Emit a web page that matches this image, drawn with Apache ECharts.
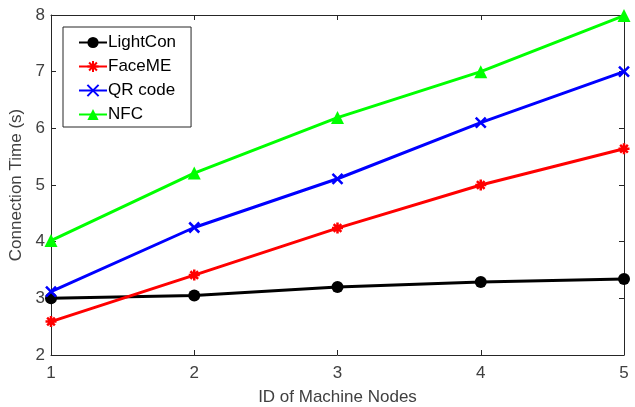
<!DOCTYPE html>
<html>
<head>
<meta charset="utf-8">
<script src="https://cdn.jsdelivr.net/npm/echarts@6/dist/echarts.min.js"></script>
<style>
  html, body { margin: 0; padding: 0; background: #fff; }
  #chart { width: 635px; height: 407px; }
</style>
</head>
<body>
<div id="chart"></div>
<script>
const nodeIds = [1, 2, 3, 4, 5];
const lightCon = [3.0, 3.05, 3.2, 3.29, 3.34];
const faceMe = [2.59, 3.41, 4.24, 5.0, 5.64];
const qrCode = [3.12, 4.25, 5.11, 6.1, 7.0];
const nfc = [4.02, 5.21, 6.19, 7.0, 7.99];

const xTicks = ['1', '2', '3', '4', '5'];
const yTicks = ['2', '3', '4', '5', '6', '7', '8'];

const FONT = '"Liberation Sans", Arial, sans-serif';
const AXIS_COLOR = '#262626';
const TEXT_COLOR = '#404040';

const asterisk = 'path://M5,0 L5,10 M0,5 L10,5 M1.5,1.5 L8.5,8.5 M8.5,1.5 L1.5,8.5';
const cross = 'path://M0,0 L10,10 M10,0 L0,10';

function pairs(values) {
    return nodeIds.map((id, i) => [id, values[i]]);
}

function makeSeries(name, values, color, symbol, size, stroke) {
    return {
        name: name,
        type: 'line',
        data: pairs(values),
        symbol: symbol,
        symbolSize: size,
        showAllSymbol: true,
        lineStyle: { color: color, width: 3 },
        itemStyle: {
            color: color,
            borderColor: color,
            borderWidth: stroke ? 2.5 : 0
        },
        emphasis: { disabled: true },
        z: 3
    };
}

const chart = echarts.init(document.getElementById('chart'), null, { renderer: 'canvas' });

const baseAxisLine = { show: true, lineStyle: { color: AXIS_COLOR, width: 1 } };
const tickInside = { show: true, inside: true, length: 5, lineStyle: { color: AXIS_COLOR } };

const option = {
    backgroundColor: '#fff',
    animation: false,
    textStyle: { fontFamily: FONT },
    grid: {
        left: 51, right: 11, top: 15, bottom: 52,
        containLabel: false,
        outerBoundsMode: 'none'
    },
    legend: {
        left: 63,
        top: 27,
        orient: 'vertical',
        itemWidth: 28,
        itemHeight: 14,
        itemGap: 7,
        padding: [7, 15, 4, 15],
        backgroundColor: '#fff',
        borderColor: AXIS_COLOR,
        borderWidth: 1,
        borderRadius: 0,
        textStyle: { fontFamily: FONT, fontSize: 17, color: '#000', padding: [0, 0, 0, -4] },
        data: ['LightCon', 'FaceME', 'QR code', 'NFC']
    },
    xAxis: [{
        type: 'value',
        min: 1,
        max: 5,
        interval: 1,
        name: 'ID of Machine Nodes',
        nameLocation: 'middle',
        nameGap: 34,
        nameTextStyle: { fontFamily: FONT, fontSize: 17, color: TEXT_COLOR },
        axisLine: baseAxisLine,
        axisTick: tickInside,
        axisLabel: {
            fontFamily: FONT, fontSize: 17, color: TEXT_COLOR, margin: 10,
            formatter: v => xTicks[nodeIds.indexOf(v)] || ''
        },
        splitLine: { show: false }
    }, {
        type: 'value',
        position: 'top',
        min: 1,
        max: 5,
        interval: 1,
        axisLine: baseAxisLine,
        axisTick: tickInside,
        axisLabel: { show: false },
        splitLine: { show: false }
    }],
    yAxis: [{
        type: 'value',
        min: 2,
        max: 8,
        interval: 1,
        name: 'Connection Time (s)',
        nameLocation: 'middle',
        nameGap: 23,
        nameTextStyle: { fontFamily: FONT, fontSize: 17, color: TEXT_COLOR },
        axisLine: baseAxisLine,
        axisTick: tickInside,
        axisLabel: {
            fontFamily: FONT, fontSize: 17, color: TEXT_COLOR, margin: 6,
            formatter: v => yTicks[v - 2] || ''
        },
        splitLine: { show: false }
    }, {
        type: 'value',
        position: 'right',
        min: 2,
        max: 8,
        interval: 1,
        axisLine: baseAxisLine,
        axisTick: tickInside,
        axisLabel: { show: false },
        splitLine: { show: false }
    }],
    series: [
        makeSeries('LightCon', lightCon, '#000000', 'circle', 12, false),
        makeSeries('FaceME', faceMe, '#ff0000', asterisk, 11, true),
        makeSeries('QR code', qrCode, '#0000ff', cross, 10, true),
        makeSeries('NFC', nfc, '#00ff00', 'triangle', 13, false)
    ]
};

chart.setOption(option);

window.addEventListener('resize', () => chart.resize());
</script>
</body>
</html>
